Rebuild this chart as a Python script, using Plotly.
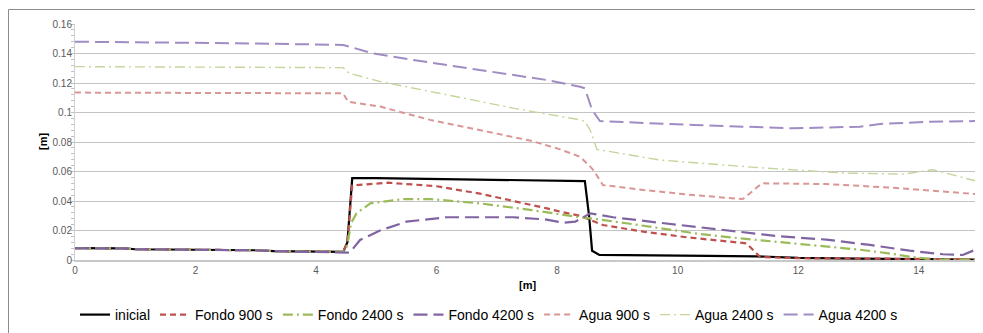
import plotly.graph_objects as go

# ---------------- data ----------------
base_x = [0, 0.8, 1.0, 2.0, 3.0, 3.3, 4.45]
base_y = [0.008, 0.0079, 0.0073, 0.0071, 0.0066, 0.0060, 0.0055]

inicial_x = base_x + [4.52, 4.6, 5.0, 6.0, 7.0, 8.0, 8.46, 8.53, 8.58, 8.7, 9.5, 10.5, 11.3, 12.0, 13.0, 14.0, 15.0]
inicial_y = base_y + [0.012, 0.0555, 0.0555, 0.0550, 0.0545, 0.0540, 0.0535, 0.030, 0.0063, 0.0035, 0.0030, 0.0028, 0.0025, 0.0015, 0.0010, 0.0005, 0.0003]

f900_x = base_x + [4.52, 4.6, 5.2, 6.0, 6.72, 7.3, 7.83, 8.05, 8.38, 8.76, 9.43, 10.15, 10.92, 11.14, 11.37, 12.0, 13.0, 14.0, 15.0]
f900_y = base_y + [0.012, 0.0505, 0.0524, 0.0500, 0.0450, 0.0400, 0.0350, 0.0328, 0.0300, 0.0237, 0.0192, 0.0154, 0.0124, 0.0113, 0.0020, 0.0012, 0.0010, 0.0007, 0.0005]

f2400_x = base_x + [4.52, 4.58, 4.67, 4.9, 5.45, 5.9, 6.72, 7.55, 8.38, 8.6, 9.15, 9.7, 10.37, 11.03, 11.7, 12.47, 13.02, 13.5, 13.97, 14.3, 15.0]
f2400_y = base_y + [0.010, 0.025, 0.0316, 0.0384, 0.0413, 0.0413, 0.0384, 0.0340, 0.0290, 0.0280, 0.0249, 0.0215, 0.0176, 0.0147, 0.0120, 0.0090, 0.0070, 0.0045, 0.0016, 0.0002, 0.0002]

f4200_x = base_x + [4.56, 4.73, 5.06, 5.5, 6.17, 7.27, 7.8, 8.1, 8.3, 8.55, 8.93, 9.65, 10.37, 11.03, 11.7, 12.47, 13.19, 13.85, 14.4, 14.73, 15.0]
f4200_y = base_y + [0.0050, 0.0136, 0.0200, 0.0260, 0.0290, 0.0290, 0.0275, 0.0253, 0.0260, 0.0316, 0.0290, 0.0255, 0.0222, 0.0190, 0.0160, 0.0138, 0.0102, 0.0063, 0.0039, 0.0034, 0.0080]

a900_x = [0, 1.5, 3.0, 4.45, 4.53, 5.06, 5.89, 6.72, 7.55, 8.0, 8.38, 8.55, 8.6, 8.76, 9.43, 10.26, 11.08, 11.4, 12.47, 13.57, 15.0]
a900_y = [0.1135, 0.1135, 0.1133, 0.1130, 0.1073, 0.1040, 0.0950, 0.0880, 0.0810, 0.0757, 0.0700, 0.0633, 0.0610, 0.0508, 0.0475, 0.0440, 0.0413, 0.0520, 0.0515, 0.0490, 0.0445]

a2400_x = [0, 1.5, 3.0, 4.45, 4.55, 5.06, 6.17, 7.27, 8.38, 8.46, 8.55, 8.66, 9.7, 11.37, 12.74, 13.74, 14.24, 14.68, 15.0]
a2400_y = [0.1311, 0.1308, 0.1305, 0.1304, 0.1266, 0.1210, 0.1120, 0.1030, 0.0950, 0.0940, 0.0880, 0.0750, 0.0678, 0.0625, 0.0590, 0.0582, 0.0612, 0.0565, 0.0530]

a4200_x = [0, 1.5, 3.0, 4.45, 4.56, 4.95, 5.61, 6.72, 7.83, 8.38, 8.46, 8.58, 8.71, 10.26, 11.91, 13.02, 13.36, 14.19, 15.0]
a4200_y = [0.1480, 0.1475, 0.1468, 0.1458, 0.1446, 0.1400, 0.1356, 0.1288, 0.1220, 0.1175, 0.1164, 0.1017, 0.0942, 0.0915, 0.0893, 0.0904, 0.0922, 0.0938, 0.0942]

x_ticks = [0, 2, 4, 6, 8, 10, 12, 14]
y_ticks = [0, 0.02, 0.04, 0.06, 0.08, 0.1, 0.12, 0.14, 0.16]

series = [
    ("inicial", inicial_x, inicial_y, "#000000", "solid", 2.2),
    ("Fondo 900 s", f900_x, f900_y, "#C0504D", "6px,4px", 2.2),
    ("Fondo 2400 s", f2400_x, f2400_y, "#9BBB59", "10px,4px,2px,4px", 2.2),
    ("Fondo 4200 s", f4200_x, f4200_y, "#8064A2", "14px,6px", 2.2),
    ("Agua 900 s", a900_x, a900_y, "#D99694", "6px,4px", 2.0),
    ("Agua 2400 s", a2400_x, a2400_y, "#C3D69B", "10px,4px,2px,4px", 1.4),
    ("Agua 4200 s", a4200_x, a4200_y, "#A08CC4", "14px,6px", 2.0),
]

fig = go.Figure()
for name, xs, ys, color, dash, w in series:
    fig.add_trace(go.Scatter(x=xs, y=ys, name=name, mode="lines",
                             line=dict(color=color, dash=dash, width=w)))

# page body has an 8px margin: work in figure pixel coordinates = screen - 8
OFF = 8
W, H = 975, 325
L, T = 75 - OFF, 24 - OFF
R = W - (979 - OFF)
B = H - (260 - OFF)
pw, ph = W - L - R, H - T - B

def px2paper_x(px):
    return (px - OFF - L) / pw

def py2paper_y(py):
    return (H - B - (py - OFF)) / ph

fig.update_layout(
    width=W, height=H,
    margin=dict(l=L, r=R, t=T, b=B, autoexpand=False),
    paper_bgcolor="white", plot_bgcolor="white",
    hovermode=False,
    font=dict(family="Liberation Sans, Arial", size=10, color="#595959"),
    showlegend=True,
    legend=dict(orientation="h", x=px2paper_x(489), xanchor="center",
                y=py2paper_y(315), yanchor="middle",
                font=dict(family="Liberation Sans, Arial", size=14, color="#000000"),
                itemwidth=30, tracegroupgap=0, bgcolor="rgba(0,0,0,0)"),
    xaxis=dict(range=[0, 15], tickvals=x_ticks, showgrid=False, zeroline=False,
               showline=True, linecolor="#C8C8C8", linewidth=2, ticks="",
               tickfont=dict(size=10, color="#595959")),
    yaxis=dict(range=[0, 0.16], tickvals=y_ticks, showgrid=True, gridcolor="#C4C4C4",
               gridwidth=1, zeroline=False, showline=True, linecolor="#D0D0D0",
               linewidth=1, ticks="", ticklen=0,
               minor=dict(dtick=0.004, ticks="outside", ticklen=3, tickcolor="#C0C0C0", showgrid=False),
               tickfont=dict(size=10, color="#595959")),
    annotations=[
        dict(text="<b>[m]</b>", x=px2paper_x(527), y=py2paper_y(293), xref="paper", yref="paper",
             showarrow=False, font=dict(size=11, color="#000000", family="Liberation Sans, Arial")),
        dict(text="<b>[m]</b>", x=px2paper_x(35), y=py2paper_y(142), xref="paper", yref="paper",
             showarrow=False, textangle=-90, font=dict(size=11, color="#000000", family="Liberation Sans, Arial")),
    ],
    shapes=[
        dict(type="rect", xref="paper", yref="paper",
             x0=px2paper_x(8.5), x1=px2paper_x(982), y0=py2paper_y(345), y1=py2paper_y(9.5),
             line=dict(color="#8C8C8C", width=1), layer="below"),
    ],
)

fig.write_html("out.html")
